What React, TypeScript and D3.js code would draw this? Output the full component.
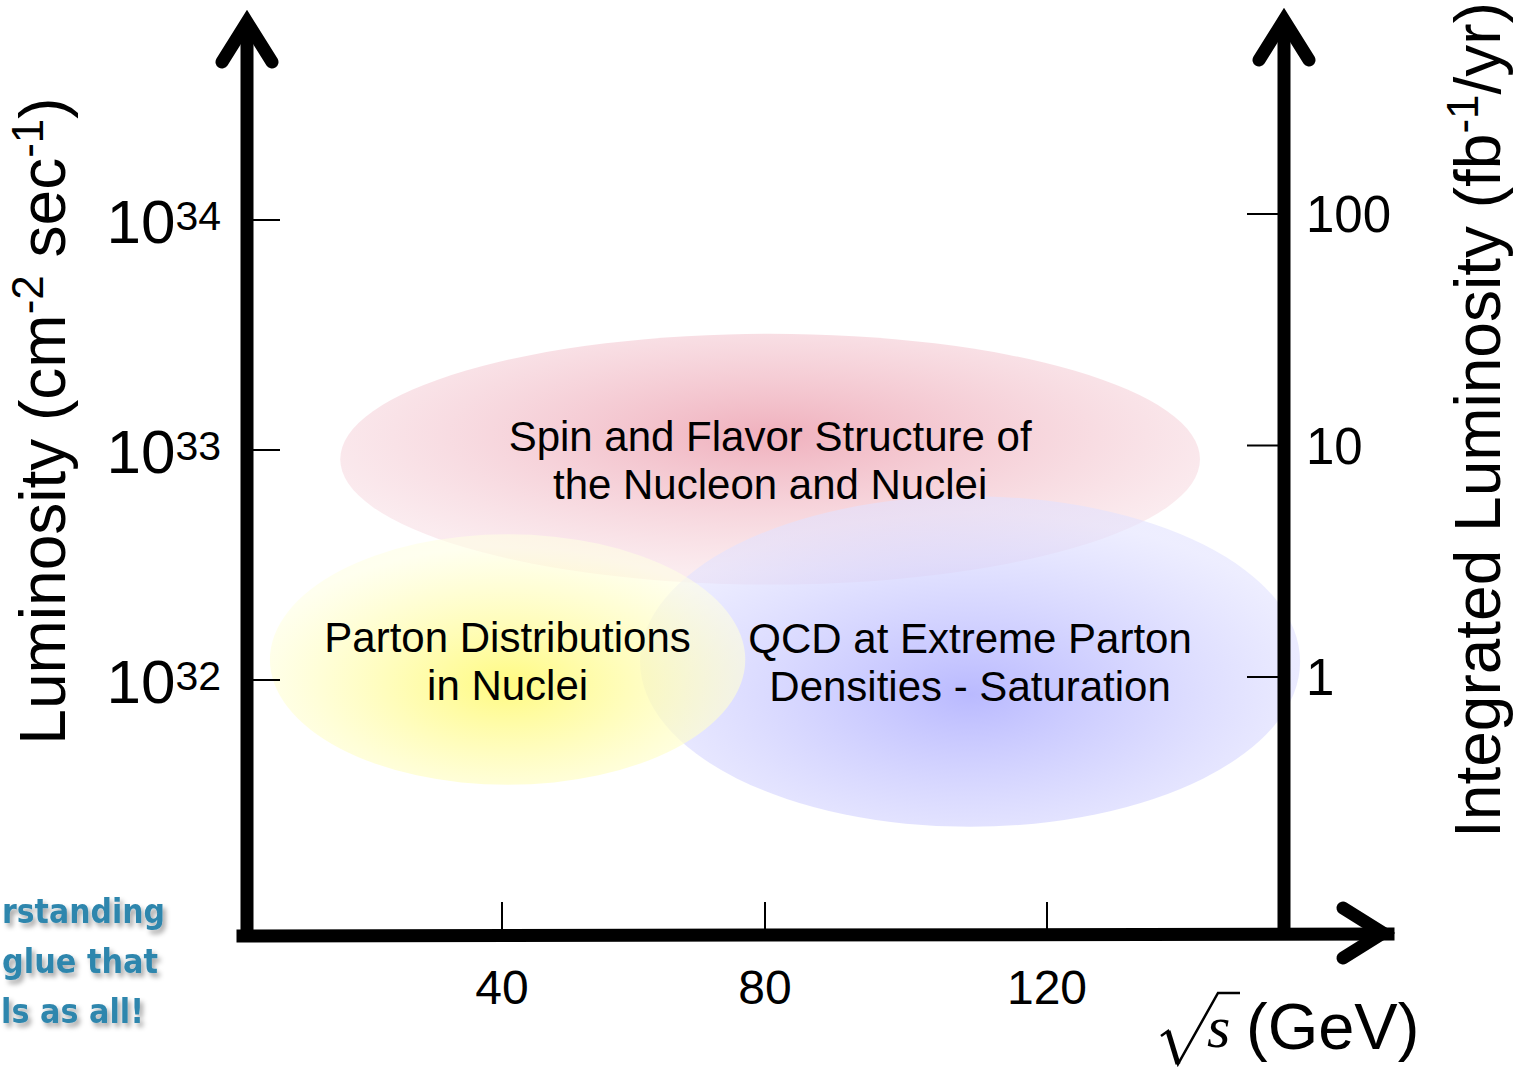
import * as d3 from "d3";
import { useEffect, useRef } from "react";

// tick values
const xTickValues = [40, 80, 120];
const lumTickValues = [1e32, 1e33, 1e34];
const lumTickExponents = ["32", "33", "34"];
const intLumTickValues = [1, 10, 100];
const intLumTickLabels = ["1", "10", "100"];

// physics regions (drawn red, blue, yellow in that order)
const regionLines = [
  ["Spin and Flavor Structure of", "the Nucleon and Nuclei"],
  ["QCD at Extreme Parton", "Densities - Saturation"],
  ["Parton Distributions", "in Nuclei"],
];
const regionSqrtSMin = [15.4, 61, 4.7];
const regionSqrtSMax = [141.7, 155.9, 77];
const regionLumMin = [2.6e32, 2.3e31, 3.5e31];
const regionLumMax = [3.2e33, 6.3e32, 4.3e32];
const regionInner = ["rgb(238,168,182)", "rgb(178,178,255)", "rgb(255,250,115)"];
const regionOuter = ["rgb(248,222,228)", "rgb(226,226,255)", "rgb(255,255,228)"];

const sideNoteLines = ["rstanding", "glue that", "ls as all!"];
const sideNoteWidths = [163, 156, 143];

const W = 1526;
const H = 1069;
const FONT = "'Liberation Sans', Arial, Helvetica, sans-serif";

const drawChart = (element: SVGSVGElement) => {
  const svg = d3.select(element);
  svg.selectAll("*").remove();

  // the printed sqrt(s) axis is slightly uneven, so a piecewise scale
  const x = d3.scaleLinear().domain([40, 80, 120]).range([502, 765, 1047]);
  const yLum = d3.scaleLog().domain([1e32, 1e34]).range([680, 220]);
  const yInt = d3.scaleLog().domain([1, 100]).range([677, 214]);

  const axisY = 936;
  const leftX = 247;
  const rightX = 1284;

  const defs = svg.append("defs");
  regionLines.forEach((_, i) => {
    const g = defs.append("radialGradient")
      .attr("id", "region" + i)
      .attr("cx", "50%").attr("cy", i === 0 ? "40%" : "60%").attr("r", "55%");
    g.append("stop").attr("offset", "0%").attr("stop-color", regionInner[i]).attr("stop-opacity", 0.9);
    g.append("stop").attr("offset", "100%").attr("stop-color", regionOuter[i]).attr("stop-opacity", 0.6);
  });
  const shadow = defs.append("filter").attr("id", "shadow")
    .attr("x", "-20%").attr("y", "-40%").attr("width", "140%").attr("height", "180%");
  shadow.append("feDropShadow")
    .attr("dx", 3).attr("dy", 4).attr("stdDeviation", 2.5)
    .attr("flood-color", "#000").attr("flood-opacity", 0.35);

  // regions
  const regions = svg.append("g");
  regionLines.forEach((_, i) => {
    const x0 = x(regionSqrtSMin[i]);
    const x1 = x(regionSqrtSMax[i]);
    const y0 = yLum(regionLumMax[i]);
    const y1 = yLum(regionLumMin[i]);
    regions.append("ellipse")
      .attr("cx", (x0 + x1) / 2)
      .attr("cy", (y0 + y1) / 2)
      .attr("rx", (x1 - x0) / 2)
      .attr("ry", (y1 - y0) / 2)
      .attr("fill", "url(#region" + i + ")");
  });
  regionLines.forEach((lines, i) => {
    const cx = (x(regionSqrtSMin[i]) + x(regionSqrtSMax[i])) / 2;
    const cy = (yLum(regionLumMax[i]) + yLum(regionLumMin[i])) / 2;
    lines.forEach((line, j) => {
      regions.append("text")
        .attr("x", cx)
        .attr("y", cy - 8 + j * 48)
        .attr("text-anchor", "middle")
        .attr("font-family", FONT)
        .attr("font-size", 42)
        .attr("fill", "#000")
        .text(line);
    });
  });

  // axes frame
  const frame = svg.append("g")
    .attr("fill", "none")
    .attr("stroke", "#000")
    .attr("stroke-width", 13)
    .attr("stroke-linecap", "round")
    .attr("stroke-linejoin", "miter");
  frame.append("path").attr("stroke-linecap", "butt")
    .attr("d", `M${leftX},${axisY} L${leftX},22`);
  frame.append("path").attr("stroke-linecap", "butt")
    .attr("d", `M${rightX},${axisY} L${rightX},20`);
  frame.append("path").attr("stroke-linecap", "square")
    .attr("d", `M${leftX - 4},${axisY} L1388,${axisY - 2}`);
  frame.append("path").attr("d", `M${leftX - 25},62 L${leftX},22 L${leftX + 25},62`);
  frame.append("path").attr("d", `M${rightX - 25},60 L${rightX},20 L${rightX + 25},60`);
  frame.append("path").attr("d", `M1343,908 L1383,933 L1343,958`);

  // x ticks
  const xt = svg.append("g");
  xt.selectAll("line").data(xTickValues).enter().append("line")
    .attr("x1", d => x(d)).attr("x2", d => x(d))
    .attr("y1", 902).attr("y2", axisY - 5)
    .attr("stroke", "#000").attr("stroke-width", 2);
  xt.selectAll("text").data(xTickValues).enter().append("text")
    .attr("x", d => x(d))
    .attr("y", 1004)
    .attr("text-anchor", "middle")
    .attr("font-family", FONT)
    .attr("font-size", 48)
    .text(d => d);

  // left y ticks
  const yl = svg.append("g");
  yl.selectAll("line").data(lumTickValues).enter().append("line")
    .attr("x1", leftX + 5).attr("x2", 280)
    .attr("y1", d => yLum(d)).attr("y2", d => yLum(d))
    .attr("stroke", "#000").attr("stroke-width", 2);
  const ylt = yl.selectAll("text").data(lumTickValues).enter().append("text")
    .attr("x", 221)
    .attr("y", d => yLum(d) + 23)
    .attr("text-anchor", "end")
    .attr("font-family", FONT)
    .attr("font-size", 62);
  ylt.append("tspan").text("10");
  ylt.append("tspan")
    .attr("font-size", 41)
    .attr("dy", -13)
    .text((_, i) => lumTickExponents[i]);

  // right y ticks
  const yr = svg.append("g");
  yr.selectAll("line").data(intLumTickValues).enter().append("line")
    .attr("x1", 1247).attr("x2", rightX - 5)
    .attr("y1", d => yInt(d)).attr("y2", d => yInt(d))
    .attr("stroke", "#000").attr("stroke-width", 2);
  yr.selectAll("text").data(intLumTickValues).enter().append("text")
    .attr("x", 1306)
    .attr("y", d => yInt(d) + 18)
    .attr("font-family", FONT)
    .attr("font-size", 51)
    .text((_, i) => intLumTickLabels[i]);

  // left axis title
  const lt = svg.append("text")
    .attr("transform", "translate(65,421) rotate(-90)")
    .attr("text-anchor", "middle")
    .attr("font-family", FONT)
    .attr("font-size", 64);
  lt.append("tspan").text("Luminosity (cm");
  lt.append("tspan").attr("font-size", 44).attr("dy", -22).text("-2");
  lt.append("tspan").attr("dy", 22).text(" sec");
  lt.append("tspan").attr("font-size", 44).attr("dy", -22).text("-1");
  lt.append("tspan").attr("dy", 22).text(")");

  // right axis title
  const rt = svg.append("text")
    .attr("transform", "translate(1500,420) rotate(-90)")
    .attr("text-anchor", "middle")
    .attr("font-family", FONT)
    .attr("font-size", 64);
  rt.append("tspan").text("Integrated Luminosity (fb");
  rt.append("tspan").attr("font-size", 44).attr("dy", -22).text("-1");
  rt.append("tspan").attr("dy", 22).text("/yr)");

  // x axis title: sqrt(s) (GeV)
  svg.append("path")
    .attr("d", "M1161,1036 L1168,1031 L1178,1064 L1218,993 L1240,993")
    .attr("fill", "none")
    .attr("stroke", "#000")
    .attr("stroke-width", 2.5)
    .attr("stroke-linejoin", "miter");
  svg.append("path")
    .attr("d", "M1168,1031 L1178,1064")
    .attr("stroke", "#000")
    .attr("stroke-width", 5);
  svg.append("text")
    .attr("x", 1207)
    .attr("y", 1047)
    .attr("font-family", "'Liberation Serif', 'Times New Roman', serif")
    .attr("font-style", "italic")
    .attr("font-size", 60)
    .text("s");
  svg.append("text")
    .attr("x", 1246)
    .attr("y", 1049)
    .attr("font-family", FONT)
    .attr("font-size", 65)
    .text("(GeV)");

  // side note from the slide, only its right end is visible
  svg.append("g")
    .selectAll("text").data(sideNoteLines).enter().append("text")
    .attr("x", (_, i) => 2 + 163 - sideNoteWidths[i] - [0, 7, 21][i])
    .attr("y", (_, i) => 923 + i * 50)
    .attr("textLength", (_, i) => sideNoteWidths[i])
    .attr("lengthAdjust", "spacingAndGlyphs")
    .attr("font-family", "'Comic Sans MS', 'DejaVu Sans', sans-serif")
    .attr("font-weight", "bold")
    .attr("font-size", 34)
    .attr("fill", "#2f86ad")
    .attr("filter", "url(#shadow)")
    .text(d => d);
};

const App = () => {
  const ref = useRef<SVGSVGElement>(null);

  useEffect(() => {
    if (ref.current) drawChart(ref.current);
  }, []);

  return (
    <svg
      ref={ref}
      width={W}
      height={H}
      style={{ position: "absolute", left: 0, top: 0, background: "#fff", display: "block" }}
    />
  );
};

export default App;
